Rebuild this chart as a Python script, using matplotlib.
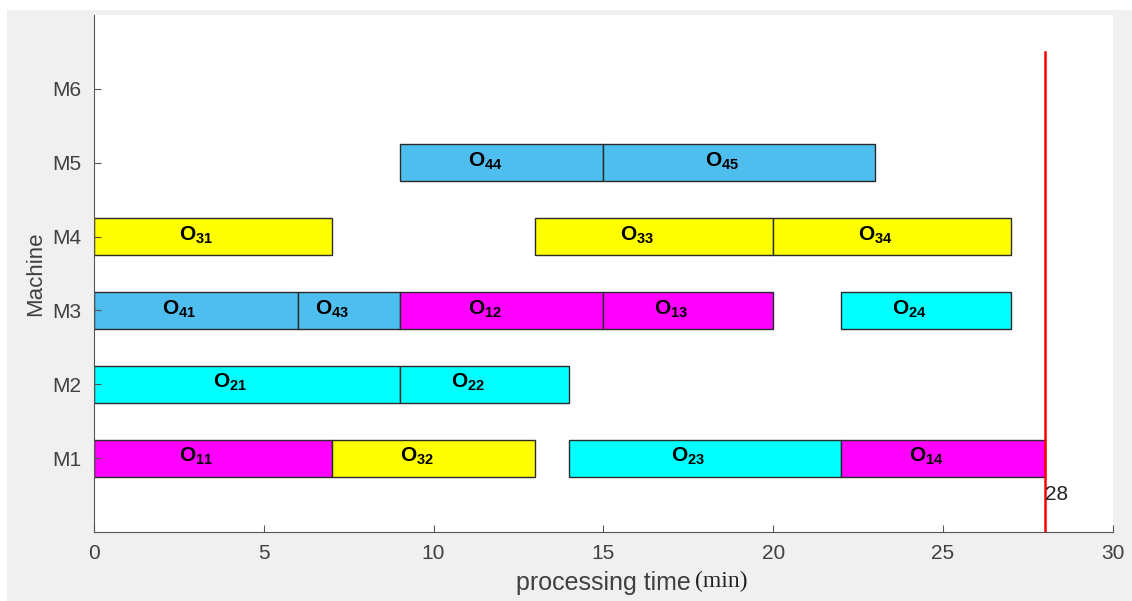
import matplotlib.pyplot as plt
from matplotlib.patches import Rectangle

plt.rcParams['font.family'] = ['Liberation Sans', 'DejaVu Sans']
plt.rcParams['mathtext.fontset'] = 'custom'
plt.rcParams['mathtext.rm'] = 'Liberation Sans'
plt.rcParams['mathtext.bf'] = 'Liberation Sans:bold'

# --- dados do escalonamento -------------------------------------------------
machines = ["M1", "M2", "M3", "M4", "M5", "M6"]
op_names = ["11", "32", "23", "14",
            "21", "22",
            "41", "43", "12", "13", "24",
            "31", "33", "34",
            "44", "45"]
op_machine = [1, 1, 1, 1,
              2, 2,
              3, 3, 3, 3, 3,
              4, 4, 4,
              5, 5]
op_start = [0, 7, 14, 22,
            0, 9,
            0, 6, 9, 15, 22,
            0, 13, 20,
            9, 15]
op_end = [7, 13, 22, 28,
          9, 14,
          6, 9, 15, 20, 27,
          7, 20, 27,
          15, 23]
makespan = 28

job_colors = {"1": "#ff00ff", "2": "#00ffff", "3": "#ffff00", "4": "#4dbeee"}

fig = plt.figure(figsize=(11.32, 6.01), dpi=100, facecolor="#f0f0f0")
# faixas brancas da borda (topo e esquerda)
fig.patches.append(Rectangle((0, 1 - 10 / 601), 1, 10 / 601, transform=fig.transFigure,
                             facecolor="white", edgecolor="none", zorder=-1))
fig.patches.append(Rectangle((0, 0), 7 / 1132, 1, transform=fig.transFigure,
                             facecolor="white", edgecolor="none", zorder=-1))

ax = fig.add_axes([0.083, 0.115, 0.9, 0.86])
ax.set_facecolor("white")

bar_h = 0.5
for name, m, s, e in zip(op_names, op_machine, op_start, op_end):
    ax.add_patch(Rectangle((s, m - bar_h / 2), e - s, bar_h,
                           facecolor=job_colors[name[0]], edgecolor="#2a2a2a", lw=1))
    ax.text((s + e) / 2 - 1, m + 0.02, r"$\mathbf{O_{%s}}$" % name,
            ha="left", va="center", fontsize=15, color="black")

ax.plot([makespan, makespan], [0, 6.5], color="red", lw=1.8)
ax.text(makespan, 0.5, str(makespan), ha="left", va="center", fontsize=15,
        color="#222222")

ax.set_xlim(0, 30)
ax.set_ylim(0, 7)
ax.set_xticks(range(0, 31, 5))
ax.set_yticks(range(1, 7))
ax.set_yticklabels(machines)
ax.tick_params(direction="in", length=5, colors="#555555", labelsize=15,
               labelcolor="#404040")
ax.tick_params(axis="x", pad=9)
ax.tick_params(axis="y", pad=9)
for side in ("top", "right"):
    ax.spines[side].set_visible(False)
for side in ("left", "bottom"):
    ax.spines[side].set_color("#555555")

ax.set_ylabel("Machine", fontsize=16, color="#404040")
ax.yaxis.set_label_coords(-0.047, 0.5)
ax.set_xlabel("processing time", fontsize=18, color="#404040")
ax.xaxis.set_label_coords(0.5, -0.076)
fig.text(695 / 1132, 1 - 581 / 601, "(min)", family="Liberation Serif",
         fontsize=17, color="#222222", ha="left", va="center")

fig.savefig("out.png", dpi=100, facecolor=fig.get_facecolor())
